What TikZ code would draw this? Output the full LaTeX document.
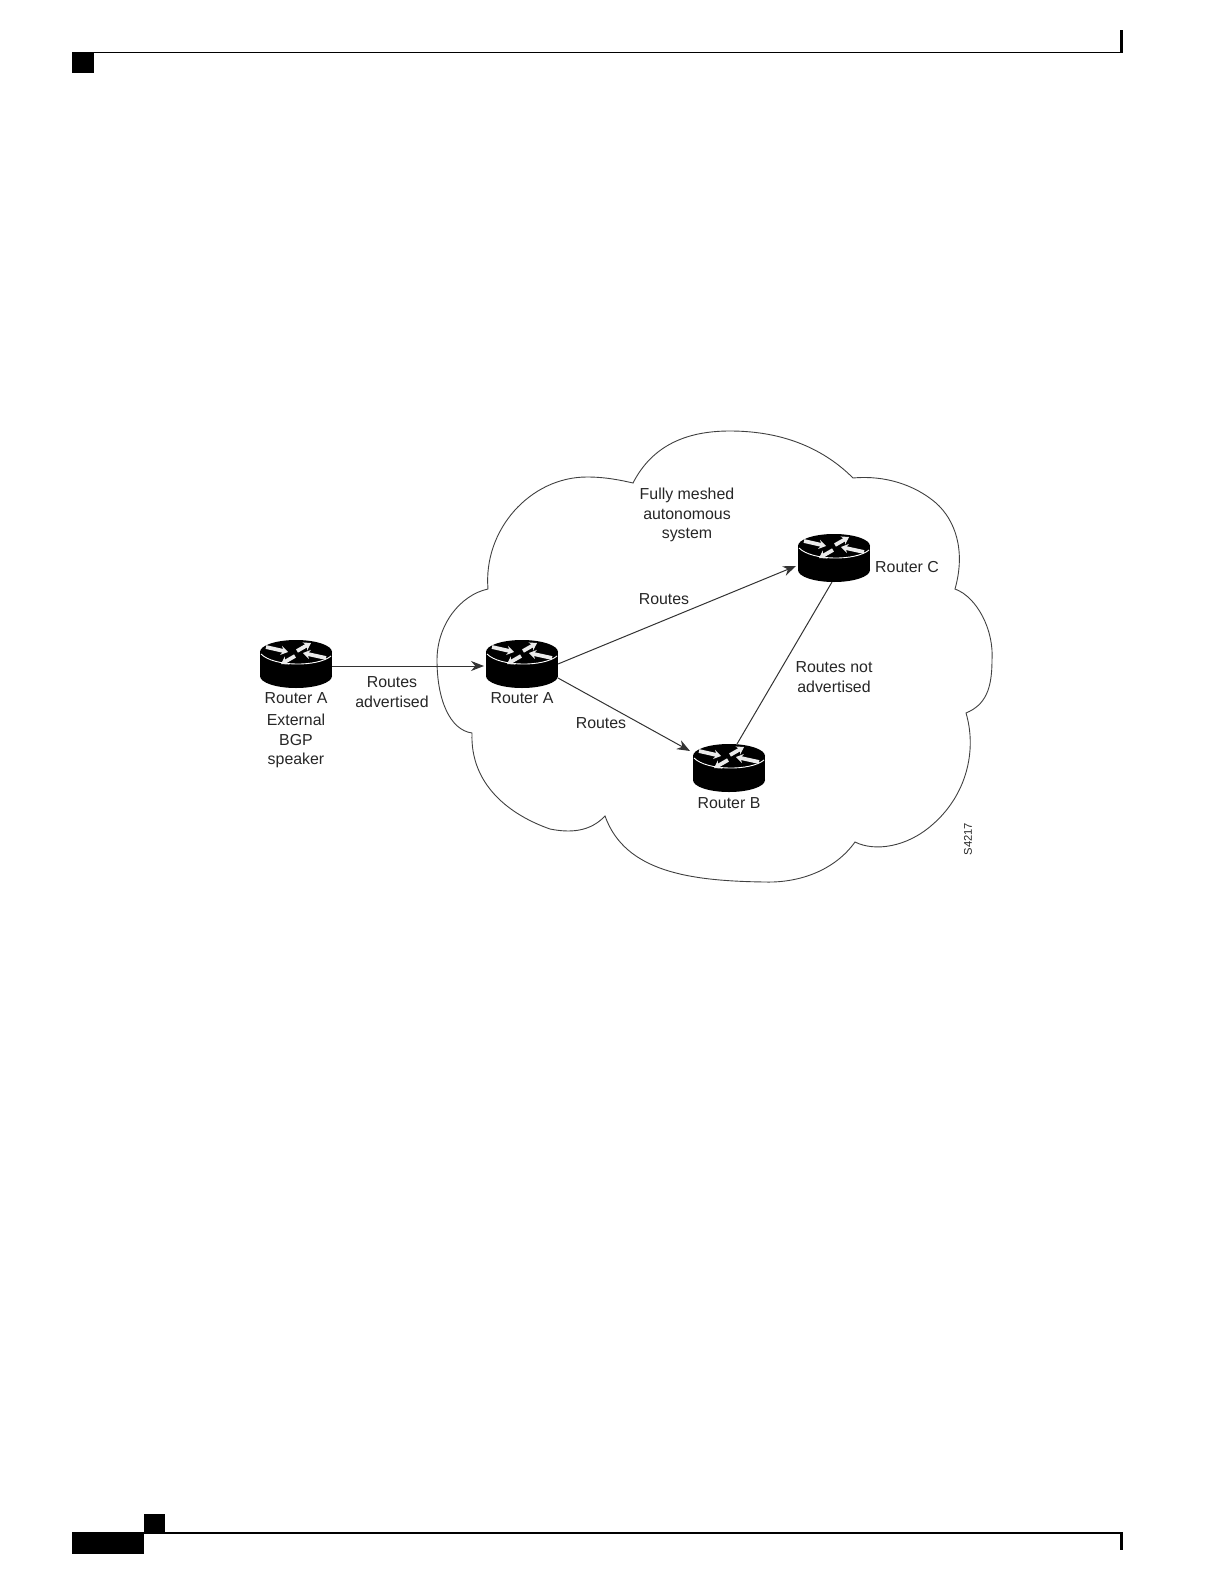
\documentclass[tikz,border=0pt]{standalone}
\usepackage{fontspec}
\setmainfont{Liberation Sans}
\usetikzlibrary{arrows.meta}
\tikzset{
  routerbox/.style={minimum width=36pt, minimum height=24pt, inner sep=0pt, outer sep=0pt},
  routerlabel/.style={font=\fontsize{7.95}{9.6}\selectfont, align=center, text=black!85, inner sep=0pt},
  link/.style={black!80, line width=0.5pt},
  whitearrow/.style={white!92!black, line width=1.9pt, -{Stealth[length=3.5pt,width=4.6pt]}},
  routericon/.pic={
    \fill[black] (0,-12) ellipse [x radius=36, y radius=12];
    \fill[black] (-36,-12) rectangle (36,12);
    \fill[black] (0,12) ellipse [x radius=36, y radius=12];
    \draw[white, line width=0.45pt] (-35,-10) .. controls (-22,3) and (22,3) .. (35,-8);
    \draw[whitearrow] (-30,-17) -- (-8,-12);
    \draw[whitearrow] (1,-13) -- (15,-21);
    \draw[whitearrow] (-1,-8) -- (-15,0);
    \draw[whitearrow] (30,-6) -- (7,-11);
  }
}

\begin{document}
\begin{tikzpicture}[x=0.5pt, y=-0.5pt, >={Stealth[length=6.5pt,width=5pt]}]
  \useasboundingbox (0,0) rectangle (1224,1584);

  % page marks
  \fill[black] (72,52) rectangle (94,73);
  \fill[black] (72,52) rectangle (1123,53.5);
  \fill[black] (1120,30) rectangle (1123,53.5);
  \fill[black] (72,1532) rectangle (144,1554);
  \fill[black] (144,1514) rectangle (165,1532);
  \fill[black] (144,1532) rectangle (1123,1533.5);
  \fill[black] (1120,1532) rectangle (1123,1550);

  % cloud
  \draw[black!75, line width=0.45pt] (633,483)
    .. controls (655,440) and (695,431) .. (730,431)
    .. controls (785,431) and (825,450) .. (853,478)
    .. controls (885,475) and (915,485) .. (936,503)
    .. controls (955,520) and (966,550) .. (955,589)
    .. controls (977,597) and (994,630) .. (992,660)
    .. controls (992,690) and (985,705) .. (966,713)
    .. controls (977,750) and (967,795) .. (932,825)
    .. controls (907,847) and (875,852) .. (855,842)
    .. controls (835,870) and (800,883) .. (765,882)
    .. controls (690,881) and (625,872) .. (605,816)
    .. controls (590,832) and (570,833) .. (550,829)
    .. controls (510,815) and (470,785) .. (472,733)
    .. controls (450,730) and (437,700) .. (437,660)
    .. controls (437,625) and (460,595) .. (488,589)
    .. controls (483,530) and (530,477) .. (587,477)
    .. controls (605,477) and (620,480) .. (633,483) -- cycle;

  % routers
  \foreach \name/\x/\y in {extA/296/664, intA/522/664, intB/729/768, intC/834/558} {
    \node[routerbox] (\name) at (\x,\y) {};
    \pic at (\name) {routericon};
  }

  % links
  \draw[link, ->] ([yshift=-1pt]extA.east) -- ([xshift=-1pt, yshift=-1pt]intA.west);
  \draw[link, ->] (intA.east) -- ([xshift=-1pt, yshift=-4pt]intC.west);
  \draw[link, ->] ([yshift=-7pt]intA.east) -- ([xshift=-1.5pt, yshift=8.5pt]intB.west);
  \draw[link] ([xshift=4pt]intB.north) -- ([xshift=-1pt]intC.south);

  % labels
  \node[routerlabel] (lblextA) at (296,698) {Router A};
  \node[routerlabel] (lblbgp) at (296,741) {External\\BGP\\speaker};
  \node[routerlabel] (lbladv) at (392,692) {Routes\\advertised};
  \node[routerlabel] (lblintA) at (522,698) {Router A};
  \node[routerlabel] (lblintB) at (729,803) {Router B};
  \node[routerlabel] (lblintC) at (907,567) {Router C};
  \node[routerlabel] (lblas) at (687,515) {Fully meshed\\autonomous\\system};
  \node[routerlabel] (lblrouteC) at (664,599) {Routes};
  \node[routerlabel] (lblrouteB) at (601,723) {Routes};
  \node[routerlabel] (lblnot) at (834,677) {Routes not\\advertised};
  \node[routerlabel, font=\fontsize{5.6}{7}\selectfont, rotate=90] (lblid) at (968,839) {S4217};
\end{tikzpicture}
\end{document}
